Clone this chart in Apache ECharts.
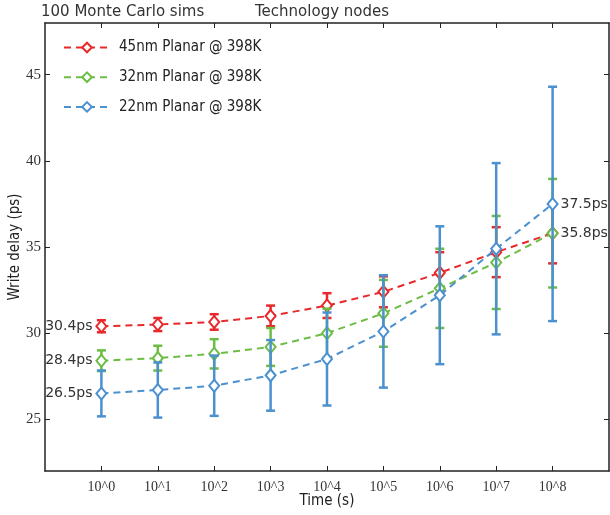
<!DOCTYPE html>
<html>
<head>
<meta charset="utf-8">
<script src="https://cdn.jsdelivr.net/npm/echarts@6/dist/echarts.min.js"></script>
<style>
  html, body { margin: 0; padding: 0; background: #fff; }
  #main { width: 610px; height: 515px; }
</style>
</head>
<body>
<div id="main"></div>
<script>
// time steps 10^0 .. 10^8 (x = exponent)
var exponents = [0, 1, 2, 3, 4, 5, 6, 7, 8];
var seriesNames = ['45nm Planar @ 398K', '32nm Planar @ 398K', '22nm Planar @ 398K'];
var seriesColors = ['#e8282b', '#6cbd45', '#4b90cf'];

// mean write delay (ps)
var delay45 = [30.4, 30.5, 30.65, 31.0, 31.6, 32.4, 33.5, 34.7, 35.8];
var delay32 = [28.4, 28.55, 28.8, 29.2, 30.0, 31.15, 32.6, 34.1, 35.8];
var delay22 = [26.5, 26.7, 26.95, 27.55, 28.5, 30.1, 32.2, 34.9, 37.5];

// half-length of the error bars (ps)
var err45 = [0.35, 0.38, 0.45, 0.6, 0.72, 0.9, 1.2, 1.45, 1.75];
var err32 = [0.6, 0.72, 0.85, 1.1, 1.42, 1.94, 2.3, 2.7, 3.15];
var err22 = [1.33, 1.6, 1.75, 2.05, 2.7, 3.26, 4.0, 4.97, 6.8];

var yTicks = [25, 30, 35, 40, 45];

var myChart = echarts.init(document.getElementById('main'));

var means = [delay45, delay32, delay22];
var errs = [err45, err32, err22];
// which end points get a value label: [first, last]
var endLabels = [[true, false], [true, true], [true, true]];

var labelFont = { fontFamily: 'DejaVu Sans', fontSize: 14, color: '#333' };

function errorBarItem(params, api) {
	var x = api.value(0);
	var lo = api.coord([x, api.value(1)]);
	var hi = api.coord([x, api.value(2)]);
	var c = api.visual('color');
	var w = 4.5;
	var st = { stroke: c, lineWidth: 2.5 };
	return {
		type: 'group',
		children: [
			{ type: 'line', shape: { x1: lo[0], y1: lo[1], x2: hi[0], y2: hi[1] }, style: st },
			{ type: 'line', shape: { x1: lo[0] - w, y1: lo[1], x2: lo[0] + w, y2: lo[1] }, style: st },
			{ type: 'line', shape: { x1: hi[0] - w, y1: hi[1], x2: hi[0] + w, y2: hi[1] }, style: st }
		]
	};
}

var series = [];
for (var s = 0; s < 3; s++) {
	var m = means[s], e = errs[s];
	series.push({
		name: seriesNames[s] + ' err',
		type: 'custom',
		renderItem: errorBarItem,
		itemStyle: { color: seriesColors[s] },
		encode: { x: 0, y: [1, 2] },
		z: 2 + s * 2,
		silent: true,
		data: exponents.map(function (x, i) { return [x, m[i] - e[i], m[i] + e[i]]; })
	});
	series.push({
		name: seriesNames[s],
		type: 'line',
		symbol: 'emptyDiamond',
		symbolSize: [10, 12],
		z: 3 + s * 2,
		itemStyle: { color: seriesColors[s], borderWidth: 2 },
		lineStyle: { color: seriesColors[s], width: 2, type: [7, 5] },
		data: (function (m, s) {
			return exponents.map(function (x, i) {
				var item = { value: [x, m[i]] };
				var last = i === exponents.length - 1;
				if ((i === 0 && endLabels[s][0]) || (last && endLabels[s][1])) {
					item.label = {
						show: true,
						position: i === 0 ? 'left' : 'right',
						distance: i === 0 ? 3 : 2,
						formatter: m[i].toFixed(1) + 'ps',
						fontFamily: labelFont.fontFamily,
						fontSize: labelFont.fontSize,
						color: labelFont.color
					};
				}
				return item;
			});
		})(m, s)
	});
}

var frameLine = { show: true, onZero: false, lineStyle: { color: '#222', width: 1.5 } };

var option = {
	animation: false,
	textStyle: { fontFamily: 'DejaVu Sans' },
	title: [
		{ text: '100 Monte Carlo sims', left: 36, top: 0, textStyle: { fontFamily: 'DejaVu Sans', fontSize: 15, fontWeight: 'normal', color: '#333' } },
		{ text: 'Technology nodes', left: 250, top: 0, textStyle: { fontFamily: 'DejaVu Sans', fontSize: 15, fontWeight: 'normal', color: '#333' } }
	],
	legend: {
		orient: 'vertical',
		left: 58,
		top: 35,
		itemWidth: 46,
		itemHeight: 12,
		itemGap: 14.7,
		data: seriesNames,
		textStyle: { fontFamily: 'DejaVu Sans Condensed', fontSize: 15, color: '#222', padding: [0, 0, 0, 4] }
	},
	grid: { left: 45, right: 1, top: 23, bottom: 44, outerBoundsMode: 'none', containLabel: false },
	xAxis: [{
		type: 'value',
		min: -1,
		max: 9,
		name: 'Time (s)',
		nameLocation: 'middle',
		nameGap: 23,
		nameMoveOverlap: false,
		nameTextStyle: { fontFamily: 'DejaVu Sans Condensed', fontSize: 15, color: '#222' },
		axisLine: frameLine,
		axisTick: { inside: true, length: 5, customValues: exponents, lineStyle: { color: '#222' } },
		axisLabel: {
			customValues: exponents,
			margin: 9,
			fontFamily: 'Liberation Serif',
			fontSize: 14,
			color: '#333',
			formatter: function (v) { return '10^' + v; }
		},
		splitLine: { show: false }
	}, {
		type: 'value',
		position: 'top',
		min: -1,
		max: 9,
		axisLine: frameLine,
		axisTick: { inside: true, length: 5, customValues: exponents, lineStyle: { color: '#222' } },
		axisLabel: { show: false },
		splitLine: { show: false }
	}],
	yAxis: [{
		type: 'value',
		min: 22,
		max: 48,
		name: 'Write delay (ps)',
		nameLocation: 'middle',
		nameGap: 22,
		nameMoveOverlap: false,
		nameTextStyle: { fontFamily: 'DejaVu Sans Condensed', fontSize: 15, color: '#222' },
		axisLine: frameLine,
		axisTick: { show: true, inside: true, length: 5, customValues: yTicks, lineStyle: { color: '#222' } },
		axisLabel: { customValues: yTicks, margin: 4, fontFamily: 'Liberation Serif', fontSize: 15, color: '#333' },
		splitLine: { show: false }
	}, {
		type: 'value',
		position: 'right',
		min: 22,
		max: 48,
		axisLine: frameLine,
		axisTick: { show: true, inside: true, length: 5, customValues: yTicks, lineStyle: { color: '#222' } },
		axisLabel: { show: false },
		splitLine: { show: false }
	}],
	series: series
};
myChart.setOption(option, true);
</script>
</body>
</html>
